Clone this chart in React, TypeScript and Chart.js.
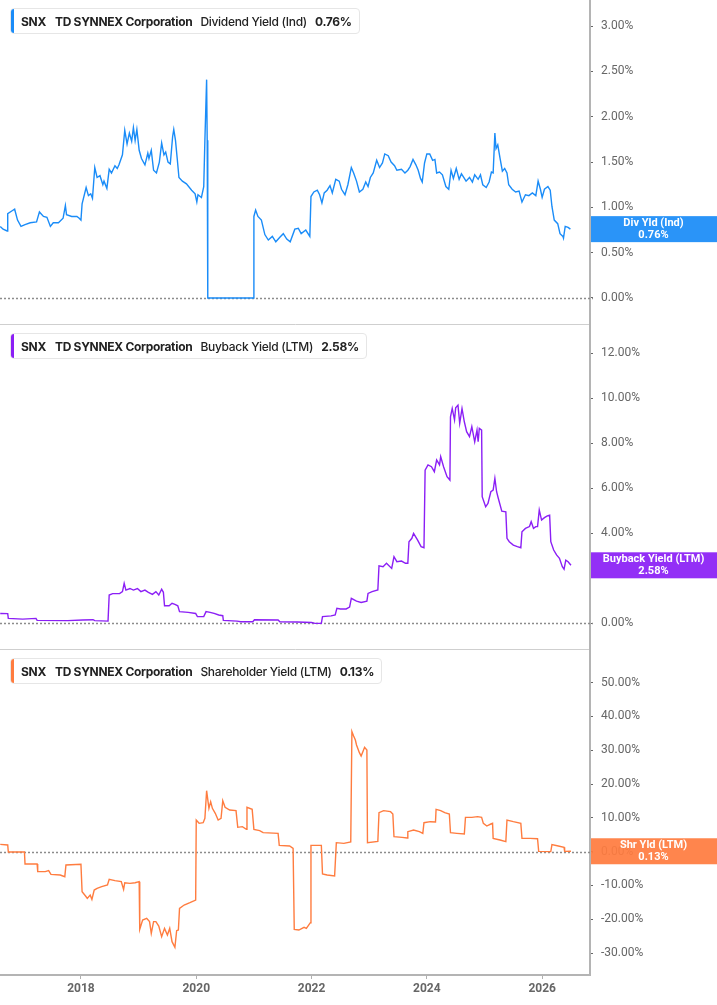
import { useEffect, useRef } from "react";
import { Chart, registerables } from "chart.js";

Chart.register(...registerables);

// shared time axis, decimal years
const X_MIN = 2016.596;
const X_MAX = 2026.83;
const YEAR_TICKS = [2018, 2020, 2022, 2024, 2026];

const DIV_DATES = [
  2016.60, 2016.65, 2016.72, 2016.73, 2016.80, 2016.85, 2016.90, 2016.96, 2017.03, 2017.12,
  2017.23, 2017.28, 2017.35, 2017.41, 2017.47, 2017.52, 2017.61, 2017.69, 2017.73, 2017.75,
  2017.84, 2017.93, 2017.97, 2018.00, 2018.02, 2018.09, 2018.13, 2018.17, 2018.20, 2018.24,
  2018.28, 2018.33, 2018.38, 2018.40, 2018.45, 2018.49, 2018.53, 2018.59, 2018.63, 2018.66,
  2018.72, 2018.76, 2018.80, 2018.84, 2018.88, 2018.91, 2018.94, 2018.97, 2019.01, 2019.05,
  2019.11, 2019.16, 2019.18, 2019.22, 2019.26, 2019.31, 2019.36, 2019.40, 2019.44, 2019.47,
  2019.51, 2019.55, 2019.59, 2019.61, 2019.64, 2019.67, 2019.70, 2019.76, 2019.83, 2019.92,
  2019.98, 2020.01, 2020.03, 2020.09, 2020.13, 2020.15, 2020.18, 2020.19, 2020.20, 2020.99,
  2021.00, 2021.03, 2021.07, 2021.13, 2021.19, 2021.25, 2021.32, 2021.38, 2021.45, 2021.51,
  2021.57, 2021.63, 2021.71, 2021.77, 2021.82, 2021.90, 2021.97, 2021.99, 2022.04, 2022.10,
  2022.14, 2022.18, 2022.22, 2022.27, 2022.32, 2022.36, 2022.42, 2022.48, 2022.52, 2022.58,
  2022.63, 2022.69, 2022.73, 2022.78, 2022.83, 2022.89, 2022.94, 2022.98, 2023.02, 2023.07,
  2023.13, 2023.18, 2023.23, 2023.27, 2023.33, 2023.38, 2023.44, 2023.48, 2023.56, 2023.62,
  2023.67, 2023.71, 2023.76, 2023.81, 2023.85, 2023.89, 2023.92, 2023.96, 2024.00, 2024.05,
  2024.10, 2024.14, 2024.17, 2024.22, 2024.27, 2024.33, 2024.38, 2024.42, 2024.46, 2024.51,
  2024.56, 2024.60, 2024.64, 2024.68, 2024.74, 2024.79, 2024.83, 2024.89, 2024.93, 2024.97,
  2025.03, 2025.08, 2025.12, 2025.15, 2025.18, 2025.20, 2025.23, 2025.27, 2025.31, 2025.35,
  2025.39, 2025.42, 2025.48, 2025.54, 2025.60, 2025.65, 2025.71, 2025.77, 2025.83, 2025.89,
  2025.93, 2025.97, 2026.00, 2026.04, 2026.10, 2026.14, 2026.17, 2026.21, 2026.27, 2026.31,
  2026.36, 2026.37, 2026.40, 2026.45, 2026.49,
];
const DIV_YIELD = [
  0.79, 0.76, 0.74, 0.93, 0.96, 0.98, 0.86, 0.79, 0.81, 0.83,
  0.84, 0.95, 0.90, 0.89, 0.79, 0.83, 0.83, 0.88, 1.02, 0.92,
  0.90, 0.90, 0.88, 0.86, 1.04, 1.22, 1.13, 1.15, 1.10, 1.44,
  1.33, 1.35, 1.25, 1.29, 1.21, 1.42, 1.38, 1.46, 1.43, 1.47,
  1.58, 1.85, 1.70, 1.82, 1.73, 1.88, 1.74, 1.86, 1.63, 1.54,
  1.47, 1.60, 1.54, 1.63, 1.41, 1.38, 1.50, 1.71, 1.58, 1.61,
  1.50, 1.48, 1.78, 1.86, 1.74, 1.54, 1.33, 1.29, 1.26, 1.19,
  1.15, 1.06, 1.14, 1.11, 1.23, 1.74, 2.41, 1.74, 0.00, 0.00,
  0.90, 0.97, 0.90, 0.86, 0.70, 0.64, 0.68, 0.62, 0.67, 0.71,
  0.65, 0.62, 0.76, 0.77, 0.71, 0.75, 0.68, 1.12, 1.17, 1.19,
  1.14, 1.05, 1.16, 1.19, 1.24, 1.16, 1.31, 1.29, 1.20, 1.14,
  1.25, 1.44, 1.38, 1.29, 1.17, 1.20, 1.28, 1.23, 1.33, 1.38,
  1.52, 1.44, 1.49, 1.59, 1.57, 1.50, 1.46, 1.41, 1.42, 1.38,
  1.41, 1.45, 1.53, 1.47, 1.41, 1.32, 1.28, 1.49, 1.59, 1.59,
  1.52, 1.53, 1.38, 1.39, 1.36, 1.23, 1.20, 1.41, 1.32, 1.43,
  1.31, 1.37, 1.33, 1.29, 1.33, 1.28, 1.36, 1.31, 1.36, 1.25,
  1.22, 1.28, 1.39, 1.38, 1.82, 1.65, 1.69, 1.54, 1.40, 1.43,
  1.38, 1.25, 1.20, 1.17, 1.18, 1.06, 1.14, 1.13, 1.16, 1.13,
  1.29, 1.20, 1.11, 1.20, 1.23, 1.19, 1.01, 0.86, 0.82, 0.71,
  0.68, 0.66, 0.79, 0.78, 0.76,
];
const DIV_TICKS = [0, 0.5, 1, 1.5, 2, 2.5, 3];

const BUY_DATES = [
  2016.60, 2016.73, 2016.74, 2016.99, 2017.22, 2017.24, 2017.77, 2018.03, 2018.21, 2018.24,
  2018.47, 2018.49, 2018.55, 2018.67, 2018.72, 2018.75, 2018.78, 2018.85, 2018.91, 2018.98,
  2019.04, 2019.11, 2019.17, 2019.24, 2019.30, 2019.35, 2019.40, 2019.43, 2019.45, 2019.53,
  2019.58, 2019.63, 2019.68, 2019.71, 2019.86, 2019.99, 2020.02, 2020.13, 2020.17, 2020.24,
  2020.31, 2020.39, 2020.46, 2020.47, 2020.71, 2020.77, 2020.98, 2021.01, 2021.42, 2021.45,
  2021.75, 2022.00, 2022.06, 2022.17, 2022.19, 2022.34, 2022.41, 2022.44, 2022.50, 2022.60,
  2022.66, 2022.69, 2022.78, 2022.86, 2022.96, 2022.98, 2023.05, 2023.15, 2023.17, 2023.24,
  2023.30, 2023.39, 2023.43, 2023.48, 2023.56, 2023.63, 2023.67, 2023.69, 2023.74, 2023.77,
  2023.84, 2023.90, 2023.95, 2023.97, 2024.02, 2024.08, 2024.13, 2024.17, 2024.22, 2024.24,
  2024.29, 2024.35, 2024.40, 2024.41, 2024.44, 2024.48, 2024.50, 2024.54, 2024.57, 2024.61,
  2024.65, 2024.69, 2024.74, 2024.78, 2024.83, 2024.87, 2024.89, 2024.91, 2024.95, 2024.96,
  2025.02, 2025.06, 2025.11, 2025.15, 2025.18, 2025.21, 2025.24, 2025.30, 2025.37, 2025.39,
  2025.43, 2025.50, 2025.57, 2025.63, 2025.65, 2025.71, 2025.78, 2025.81, 2025.85, 2025.89,
  2025.92, 2025.95, 2025.99, 2026.04, 2026.09, 2026.13, 2026.15, 2026.20, 2026.25, 2026.30,
  2026.35, 2026.38, 2026.41, 2026.45, 2026.50,
];
const BUY_YIELD = [
  0.44, 0.43, 0.22, 0.19, 0.22, 0.13, 0.12, 0.15, 0.16, 0.12,
  0.10, 1.26, 1.32, 1.32, 1.41, 1.78, 1.48, 1.55, 1.48, 1.55,
  1.41, 1.48, 1.38, 1.29, 1.41, 1.26, 1.52, 1.38, 0.78, 0.78,
  0.89, 0.84, 0.78, 0.52, 0.49, 0.44, 0.30, 0.30, 0.52, 0.49,
  0.44, 0.37, 0.34, 0.13, 0.10, 0.07, 0.07, 0.16, 0.15, 0.07,
  0.06, 0.04, 0.00, 0.00, 0.30, 0.33, 0.37, 0.67, 0.64, 0.64,
  0.72, 1.11, 0.99, 0.93, 0.99, 1.33, 1.41, 1.48, 2.56, 2.52,
  2.67, 2.44, 2.96, 2.74, 2.77, 2.67, 2.67, 3.63, 3.78, 4.00,
  3.70, 3.41, 3.36, 6.81, 7.04, 6.96, 6.74, 7.26, 7.04, 7.41,
  6.96, 6.52, 6.37, 9.18, 9.55, 9.04, 9.58, 9.70, 8.89, 9.55,
  8.96, 8.52, 8.30, 8.74, 8.07, 8.59, 8.07, 8.67, 8.59, 5.63,
  5.18, 5.33, 5.85, 5.92, 6.44, 5.85, 5.55, 4.99, 4.96, 3.78,
  3.63, 3.48, 3.41, 3.36, 4.07, 4.22, 4.30, 4.52, 4.22, 4.30,
  4.30, 5.04, 4.59, 4.70, 4.78, 4.81, 3.63, 3.26, 3.04, 2.89,
  2.52, 2.41, 2.81, 2.74, 2.58,
];
// the 2.00% label sits under the value tag, so it is not shown
const BUY_TICKS = [0, 4, 6, 8, 10, 12];

const SHR_DATES = [
  2016.60, 2016.73, 2016.74, 2017.02, 2017.03, 2017.24, 2017.25, 2017.38, 2017.44, 2017.48,
  2017.64, 2017.72, 2017.74, 2018.00, 2018.02, 2018.08, 2018.11, 2018.16, 2018.19, 2018.23,
  2018.28, 2018.36, 2018.46, 2018.49, 2018.59, 2018.70, 2018.74, 2018.76, 2018.85, 2018.94,
  2019.01, 2019.02, 2019.07, 2019.14, 2019.19, 2019.22, 2019.26, 2019.30, 2019.35, 2019.40,
  2019.45, 2019.50, 2019.54, 2019.58, 2019.63, 2019.66, 2019.69, 2019.71, 2019.79, 2019.89,
  2019.99, 2020.00, 2020.05, 2020.12, 2020.15, 2020.18, 2020.22, 2020.25, 2020.28, 2020.33,
  2020.38, 2020.43, 2020.46, 2020.50, 2020.58, 2020.69, 2020.72, 2020.80, 2020.87, 2020.88,
  2020.97, 2021.00, 2021.10, 2021.16, 2021.42, 2021.44, 2021.62, 2021.68, 2021.70, 2021.78,
  2021.87, 2021.91, 2021.98, 2021.99, 2022.17, 2022.19, 2022.27, 2022.40, 2022.43, 2022.56,
  2022.68, 2022.70, 2022.73, 2022.76, 2022.78, 2022.83, 2022.86, 2022.89, 2022.92, 2022.96,
  2022.97, 2023.15, 2023.17, 2023.25, 2023.37, 2023.41, 2023.43, 2023.57, 2023.66, 2023.67,
  2023.77, 2023.87, 2023.93, 2023.95, 2024.06, 2024.15, 2024.16, 2024.24, 2024.31, 2024.39,
  2024.41, 2024.52, 2024.65, 2024.67, 2024.78, 2024.88, 2024.95, 2024.98, 2025.04, 2025.11,
  2025.14, 2025.15, 2025.27, 2025.37, 2025.39, 2025.50, 2025.63, 2025.65, 2025.79, 2025.92,
  2025.94, 2026.15, 2026.17, 2026.28, 2026.38, 2026.39, 2026.50,
];
const SHR_YIELD = [
  2.17, 1.98, -0.09, -0.09, -3.64, -3.64, -5.91, -5.91, -5.62, -6.70,
  -6.90, -7.39, -3.94, -3.74, -11.83, -13.11, -13.80, -12.82, -14.10, -11.34,
  -10.84, -10.35, -9.86, -8.18, -8.57, -8.87, -11.14, -9.17, -9.36, -9.17,
  -8.87, -22.97, -20.21, -19.72, -20.70, -24.16, -20.70, -20.70, -21.99, -25.14,
  -22.68, -24.65, -22.68, -26.62, -28.30, -23.37, -23.17, -16.76, -15.77, -15.08,
  -14.30, 9.37, 8.39, 8.58, 9.87, 18.05, 12.83, 14.80, 12.83, 11.35,
  9.37, 9.87, 15.10, 13.12, 12.33, 12.14, 7.21, 7.40, 6.61, 13.12,
  12.53, 6.61, 6.22, 5.63, 5.43, 1.88, 1.68, 1.00, -22.97, -23.17,
  -22.38, -22.68, -21.00, 1.88, 1.88, -6.60, -6.90, -7.19, 2.67, 2.47,
  2.87, 35.51, 34.23, 33.04, 31.56, 29.30, 28.31, 29.59, 30.87, 30.08,
  2.67, 3.06, 11.54, 12.14, 11.84, 11.15, 4.44, 4.25, 4.05, 5.92,
  6.42, 5.92, 5.43, 8.58, 8.88, 8.78, 12.53, 12.14, 11.54, 11.15,
  5.63, 5.43, 5.23, 10.16, 10.16, 10.36, 10.16, 8.39, 7.60, 8.19,
  8.39, 3.95, 3.46, 2.97, 9.37, 8.88, 8.39, 3.95, 3.95, 3.85,
  0.10, 0.01, 2.08, 1.68, 1.29, 0.10, 0.13,
];
const SHR_TICKS = [-30, -20, -10, 0, 10, 20, 30, 40, 50];

const WIDTH = 717;
const AXIS_W = 127;

type PanelProps = {
  dates: number[];
  values: number[];
  ticks: number[];
  yMin: number;
  yMax: number;
  color: string;
  top: number;
  height: number;
  showX: boolean;
  metric: string;
  tag: string;
};

function Panel({ dates, values, ticks, yMin, yMax, color, top, height, showX, metric, tag }: PanelProps) {
  const canvasRef = useRef<HTMLCanvasElement>(null);
  const last = values[values.length - 1];
  const lastText = last.toFixed(2) + "%";

  useEffect(() => {
    if (!canvasRef.current) return;

    const zeroLine = {
      id: "zeroLine",
      beforeDatasetsDraw(chart: any) {
        const { ctx, chartArea } = chart;
        const y = Math.round(chart.scales.y.getPixelForValue(0)) + 0.5;
        ctx.save();
        ctx.strokeStyle = "#8c8c8c";
        ctx.lineWidth = 1.5;
        ctx.setLineDash([2, 2]);
        ctx.beginPath();
        ctx.moveTo(chartArea.left, y);
        ctx.lineTo(chartArea.right + 3, y);
        ctx.stroke();
        ctx.restore();
      },
    };

    const lastTag = {
      id: "lastTag",
      afterDraw(chart: any) {
        const { ctx, chartArea, width } = chart;
        const y = chart.scales.y.getPixelForValue(last);
        const cx = (chartArea.right + width) / 2;
        ctx.save();
        ctx.globalAlpha = 0.93;
        ctx.fillStyle = color;
        ctx.fillRect(chartArea.right + 1, y - 13, width - chartArea.right, 26);
        ctx.globalAlpha = 1;
        ctx.fillStyle = "#fff";
        ctx.font = "bold 11px Roboto, sans-serif";
        ctx.textAlign = "center";
        ctx.textBaseline = "middle";
        ctx.fillText(tag, cx, y - 6);
        ctx.fillText(lastText, cx, y + 6);
        ctx.restore();
      },
    };

    const chart = new Chart(canvasRef.current, {
      type: "line",
      data: {
        datasets: [
          {
            data: dates.map((d, i) => ({ x: d, y: values[i] })),
            borderColor: color,
            borderWidth: 1.4,
            pointRadius: 0,
            tension: 0,
            fill: false,
          },
        ],
      },
      options: {
        animation: false,
        responsive: false,
        events: [],
        layout: { padding: 0 },
        plugins: { legend: { display: false }, tooltip: { enabled: false } },
        scales: {
          x: {
            type: "linear",
            min: X_MIN,
            max: X_MAX,
            afterBuildTicks: (s: any) => {
              s.ticks = YEAR_TICKS.map((v) => ({ value: v }));
            },
            afterFit: (s: any) => {
              s.height = showX ? 30 : 1;
              s.paddingLeft = 0;
              s.paddingRight = 0;
            },
            grid: { drawOnChartArea: false, drawTicks: showX, tickLength: 4, color: "#b0b0b0" },
            border: { color: showX ? "#b4b4b4" : "#cfcfcf", width: showX ? 2 : 1 },
            ticks: {
              display: showX,
              padding: 3,
              color: "#666",
              autoSkip: false,
              maxRotation: 0,
              font: { family: "Roboto", size: 12, weight: "bold" },
              callback: (v: any) => String(v),
            },
          },
          y: {
            position: "right",
            min: yMin,
            max: yMax,
            afterBuildTicks: (s: any) => {
              s.ticks = ticks.map((v) => ({ value: v }));
            },
            afterFit: (s: any) => {
              s.width = AXIS_W;
              s.paddingTop = 0;
              s.paddingBottom = 0;
            },
            grid: { drawOnChartArea: false, tickLength: 3, color: "#666" },
            border: { color: "#b4b4b4", width: 2 },
            ticks: {
              padding: 8,
              color: "#666",
              autoSkip: false,
              font: { family: "Roboto", size: 12 },
              callback: (v: any) => Number(v).toFixed(2) + "%",
            },
          },
        },
      },
      plugins: [zeroLine, lastTag],
    });

    return () => chart.destroy();
  }, []);

  return (
    <div style={{ position: "absolute", left: 0, top, width: WIDTH, height }}>
      <canvas ref={canvasRef} width={WIDTH} height={height} style={{ display: "block" }} />
      <div
        style={{
          position: "absolute",
          left: 10,
          top: 8,
          height: 24,
          display: "flex",
          alignItems: "center",
          background: "#fff",
          border: "1px solid #e6e6e6",
          borderRadius: 4,
          paddingRight: 7,
          fontFamily: "Inter, sans-serif",
          fontSize: 12,
          letterSpacing: -0.3,
          color: "#222",
          whiteSpace: "nowrap",
          overflow: "hidden",
        }}
      >
        <span style={{ width: 3, alignSelf: "stretch", background: color, marginRight: 7 }} />
        <span style={{ fontWeight: 700 }}>SNX</span>
        <span style={{ fontWeight: 700, marginLeft: 9 }}>TD SYNNEX Corporation</span>
        <span style={{ fontWeight: 500, marginLeft: 8 }}>{metric}</span>
        <span style={{ fontWeight: 700, marginLeft: 8 }}>{lastText}</span>
      </div>
    </div>
  );
}

export default function App() {
  return (
    <div style={{ position: "absolute", left: 0, top: 0, width: WIDTH, height: 1005, background: "#fff", overflow: "hidden" }}>
      <Panel
        dates={DIV_DATES}
        values={DIV_YIELD}
        ticks={DIV_TICKS}
        yMin={-0.287}
        yMax={3.289}
        color="#1a8cf8"
        top={0}
        height={325}
        showX={false}
        metric="Dividend Yield (Ind)"
        tag="Div Yld (Ind)"
      />
      <Panel
        dates={BUY_DATES}
        values={BUY_YIELD}
        ticks={BUY_TICKS}
        yMin={-1.14}
        yMax={13.26}
        color="#8b1ff5"
        top={325}
        height={325}
        showX={false}
        metric="Buyback Yield (LTM)"
        tag="Buyback Yield (LTM)"
      />
      <Panel
        dates={SHR_DATES}
        values={SHR_YIELD}
        ticks={SHR_TICKS}
        yMin={-36.48}
        yMax={59.67}
        color="#ff7c3f"
        top={650}
        height={355}
        showX={true}
        metric="Shareholder Yield (LTM)"
        tag="Shr Yld (LTM)"
      />
    </div>
  );
}
